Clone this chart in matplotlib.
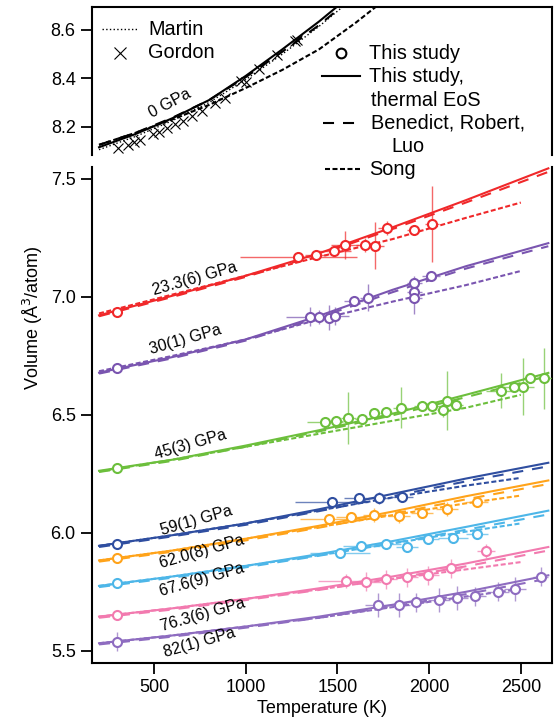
import matplotlib
matplotlib.use("Agg")
import matplotlib.pyplot as plt
from matplotlib.lines import Line2D
from matplotlib.colors import to_rgba
from matplotlib.ticker import FormatStrFormatter, MultipleLocator

plt.rcParams['font.family'] = ['Liberation Sans', 'DejaVu Sans']

# ---- 0 GPa (top panel) ----
t0 = [200, 400, 600, 800, 1000, 1200, 1400, 1600]
v0_this = [8.115, 8.17, 8.235, 8.31, 8.41, 8.52, 8.635, 8.76]
v0_benedict = [8.125, 8.175, 8.237, 8.31, 8.405, 8.51, 8.62, 8.745]
v0_martin = [8.105, 8.16, 8.225, 8.30, 8.395, 8.50, 8.615, 8.74]
t0_song = [200, 400, 600, 800, 1000, 1200, 1400, 1600, 1800]
v0_song = [8.125, 8.175, 8.23, 8.29, 8.36, 8.435, 8.52, 8.63, 8.75]
t_gordon = [305, 360, 390, 425, 495, 525, 570, 615, 660, 705, 760, 830, 885,
            975, 1000, 1075, 1170, 1270, 1280]
v_gordon = [8.11, 8.125, 8.135, 8.145, 8.17, 8.18, 8.195, 8.21, 8.225, 8.243,
            8.265, 8.30, 8.32, 8.39, 8.385, 8.44, 8.495, 8.555, 8.56]

# ---- high pressure isobars (bottom panel) ----
t_fit = [200, 600, 1000, 1400, 1800, 2200, 2650]
t_song = [200, 600, 1000, 1400, 1800, 2200, 2500]

labels = ['23.3(6) GPa', '30(1) GPa', '45(3) GPa', '59(1) GPa',
          '62.0(8) GPa', '67.6(9) GPa', '76.3(6) GPa', '82(1) GPa']
colors = ['#f0282a', '#7a55b0', '#6cbf3c', '#2f4ea0',
          '#ffa31a', '#4db6e8', '#f27aaf', '#8e6cc0']

fit_this = [
    [6.922, 7.005, 7.09, 7.185, 7.295, 7.41, 7.545],
    [6.679, 6.745, 6.82, 6.92, 7.03, 7.13, 7.228],
    [6.263, 6.31, 6.37, 6.435, 6.505, 6.585, 6.678],
    [5.945, 5.99, 6.04, 6.10, 6.165, 6.23, 6.297],
    [5.883, 5.925, 5.975, 6.03, 6.09, 6.155, 6.222],
    [5.775, 5.815, 5.86, 5.91, 5.965, 6.025, 6.094],
    [5.645, 5.68, 5.72, 5.765, 5.815, 5.87, 5.94],
    [5.532, 5.565, 5.603, 5.645, 5.695, 5.75, 5.82],
]
fit_benedict = [
    [6.918, 7.0, 7.085, 7.18, 7.288, 7.40, 7.53],
    [6.675, 6.74, 6.815, 6.913, 7.02, 7.12, 7.215],
    [6.258, 6.305, 6.365, 6.43, 6.498, 6.575, 6.665],
    [5.94, 5.985, 6.034, 6.092, 6.155, 6.218, 6.282],
    [5.878, 5.92, 5.968, 6.022, 6.08, 6.142, 6.207],
    [5.77, 5.81, 5.854, 5.903, 5.956, 6.013, 6.078],
    [5.64, 5.675, 5.715, 5.758, 5.806, 5.858, 5.925],
    [5.527, 5.56, 5.598, 5.64, 5.688, 5.74, 5.806],
]
fit_song = [
    [6.93, 7.01, 7.09, 7.17, 7.245, 7.335, 7.40],
    [6.685, 6.75, 6.82, 6.905, 6.98, 7.05, 7.11],
    [6.26, 6.31, 6.365, 6.42, 6.475, 6.53, 6.585],
    [5.945, 5.99, 6.04, 6.095, 6.15, 6.20, 6.233],
    [5.883, 5.925, 5.975, 6.025, 6.075, 6.125, 6.158],
    [5.775, 5.815, 5.86, 5.905, 5.955, 6.005, 6.04],
    [5.645, 5.68, 5.72, 5.76, 5.805, 5.845, 5.876],
    [5.532, 5.565, 5.603, 5.64, 5.685, 5.73, 5.762],
]

pts_t = [
    [300, 1287, 1384, 1482, 1542, 1651, 1706, 1769, 1918, 2015],
    [300, 1352, 1398, 1453, 1484, 1588, 1665, 1919, 1919, 1919, 2011],
    [300, 1433, 1491, 1559, 1636, 1700, 1765, 1844, 1960, 2018, 2073, 2098,
     2147, 2391, 2465, 2513, 2551, 2629],
    [300, 1468, 1617, 1728, 1853],
    [300, 1453, 1574, 1700, 1834, 1960, 2098, 2262],
    [300, 1514, 1630, 1765, 1877, 1996, 2131, 2262],
    [300, 1549, 1655, 1767, 1877, 1996, 2121, 2311],
    [300, 1722, 1838, 1931, 2054, 2150, 2249, 2374, 2468, 2609],
]
pts_v = [
    [6.935, 7.171, 7.179, 7.196, 7.220, 7.220, 7.217, 7.291, 7.284, 7.309],
    [6.698, 6.916, 6.916, 6.912, 6.919, 6.984, 6.997, 7.060, 7.021, 6.997, 7.089],
    [6.274, 6.471, 6.475, 6.486, 6.483, 6.509, 6.511, 6.531, 6.538, 6.538,
     6.521, 6.560, 6.542, 6.603, 6.620, 6.620, 6.655, 6.655],
    [5.951, 6.132, 6.149, 6.149, 6.153],
    [5.892, 6.057, 6.068, 6.076, 6.071, 6.085, 6.100, 6.132],
    [5.786, 5.913, 5.946, 5.951, 5.941, 5.974, 5.979, 5.995],
    [5.652, 5.796, 5.793, 5.804, 5.811, 5.821, 5.850, 5.924],
    [5.539, 5.694, 5.694, 5.706, 5.715, 5.725, 5.732, 5.750, 5.762, 5.814],
]
pts_xerr = [
    [0, 318, 60, 90, 78, 50, 50, 50, 40, 40],
    [0, 130, 40, 60, 80, 50, 40, 40, 40, 40, 50],
    [0, 100, 40, 40, 40, 30, 30, 40, 40, 40, 30, 40, 40, 80, 60, 60, 40, 40],
    [0, 200, 80, 60, 60],
    [0, 155, 80, 60, 60, 60, 60, 60],
    [0, 164, 100, 80, 60, 60, 80, 60],
    [0, 155, 80, 60, 60, 60, 60, 50],
    [0, 70, 60, 60, 60, 60, 60, 60, 60, 40],
]
pts_yerr = [
    [0.01, 0.015, 0.015, 0.02, 0.06, 0.03, 0.10, 0.03, 0.02, 0.16],
    [0.01, 0.04, 0.03, 0.053, 0.04, 0.02, 0.057, 0.03, 0.02, 0.07, 0.02],
    [0.01, 0.02, 0.02, 0.11, 0.02, 0.02, 0.02, 0.088, 0.02, 0.02, 0.03, 0.125,
     0.02, 0.074, 0.02, 0.12, 0.02, 0.13],
    [0.015, 0.02, 0.02, 0.025, 0.02],
    [0.015, 0.02, 0.02, 0.03, 0.03, 0.02, 0.03, 0.02],
    [0.02, 0.02, 0.02, 0.02, 0.02, 0.02, 0.02, 0.02],
    [0.01, 0.03, 0.04, 0.04, 0.04, 0.04, 0.04, 0.03],
    [0.04, 0.05, 0.05, 0.04, 0.05, 0.05, 0.04, 0.04, 0.05, 0.04],
]
label_t = [720, 672, 701, 729, 759, 759, 768, 749]
label_v = [7.079, 6.817, 6.372, 6.052, 5.92, 5.803, 5.652, 5.534]

W, H = 554, 724
fig = plt.figure(figsize=(W / 100, H / 100), dpi=100)


def fx(px):
    return px / W


def fy(py):
    return 1 - py / H


ax_top = fig.add_axes([fx(91.7), fy(155), (552 - 91.7) / W, (155 - 6.7) / H])
ax = fig.add_axes([fx(91.7), fy(663.3), (552 - 91.7) / W, (663.3 - 166.7) / H])

LONG = (5.3, 4.3)
SHORT = (2.4, 1.2)

# top panel
ax_top.plot(t0, v0_this, color='k', lw=1.5)
ax_top.plot(t0, v0_benedict, color='k', lw=1.5, dashes=LONG)
ax_top.plot(t0, v0_martin, color='k', lw=1.0, ls=':')
ax_top.plot(t0_song, v0_song, color='k', lw=1.5, dashes=SHORT)
ax_top.plot(t_gordon, v_gordon, 'x', color='k', ms=7, mew=0.8)
ax_top.text(585, 8.295, '0 GPa', rotation=28, ha='center', va='center',
            fontsize=11.5, rotation_mode='anchor')
ax_top.set_xlim(160, 2670)
ax_top.set_ylim(8.083, 8.696)
ax_top.spines['bottom'].set_visible(False)
ax_top.tick_params(axis='x', bottom=False, labelbottom=False)
ax_top.yaxis.set_major_locator(MultipleLocator(0.2))
ax_top.yaxis.set_major_formatter(FormatStrFormatter('%.1f'))

# bottom panel
for i, c in enumerate(colors):
    ax.plot(t_fit, fit_benedict[i], color=c, lw=1.5, dashes=LONG, zorder=2)
    ax.plot(t_fit, fit_this[i], color=c, lw=1.5, zorder=3)
    ax.plot(t_song, fit_song[i], color=c, lw=1.5, dashes=SHORT, zorder=2)
    ax.errorbar(pts_t[i], pts_v[i], xerr=pts_xerr[i], yerr=pts_yerr[i],
                fmt='o', ms=6.5, mfc='white', mec=c, mew=1.5,
                ecolor=to_rgba(c, 0.7), elinewidth=1.0, capsize=0, zorder=4)
    ax.text(label_t[i], label_v[i], labels[i], rotation=16, ha='center',
            va='center', fontsize=11.5, rotation_mode='anchor')

ax.set_xlim(160, 2670)
ax.set_ylim(5.447, 7.552)
ax.spines['top'].set_visible(False)
ax.xaxis.set_major_locator(MultipleLocator(500))
ax.yaxis.set_major_locator(MultipleLocator(0.5))
ax.yaxis.set_major_formatter(FormatStrFormatter('%.1f'))
ax.set_xlabel('Temperature (K)', fontsize=13, labelpad=3)

for a in (ax, ax_top):
    for s in a.spines.values():
        s.set_linewidth(1.5)
    a.tick_params(direction='out', length=8, width=1.3, labelsize=13,
                  right=False, top=False)

fig.text(fx(33), fy(318), 'Volume (Å$^3$/atom)', rotation=90,
         ha='center', va='center', fontsize=13)

# legends drawn in figure pixel positions
fs = 14.3
fig.add_artist(Line2D([fx(101.7), fx(138.3)], [fy(29.3)] * 2, color='k',
                      lw=1.0, ls=':'))
fig.text(fx(148), fy(29.3), 'Martin', va='center', fontsize=fs)
fig.add_artist(Line2D([fx(120)], [fy(52.7)], marker='x', color='k', ms=9,
                      mew=0.8, ls='none'))
fig.text(fx(148), fy(52.7), 'Gordon', va='center', fontsize=fs)

fig.add_artist(Line2D([fx(341)], [fy(53.3)], marker='o', mfc='white',
                      mec='k', ms=7, mew=1.5, ls='none'))
fig.text(fx(369), fy(53.3), 'This study', va='center', fontsize=fs)
fig.add_artist(Line2D([fx(321.7), fx(360)], [fy(76)] * 2, color='k', lw=1.5))
fig.text(fx(369), fy(76), 'This study,', va='center', fontsize=fs)
fig.text(fx(371), fy(100), 'thermal EoS', va='center', fontsize=fs)
fig.add_artist(Line2D([fx(323), fx(356)], [fy(122.7)] * 2, color='k',
                      lw=1.5, dashes=LONG))
fig.text(fx(371), fy(122.7), 'Benedict, Robert,', va='center', fontsize=fs)
fig.text(fx(391), fy(146.7), 'Luo', va='center', fontsize=fs)
fig.add_artist(Line2D([fx(325), fx(362)], [fy(169.3)] * 2, color='k',
                      lw=1.5, dashes=SHORT))
fig.text(fx(369), fy(169.3), 'Song', va='center', fontsize=fs)

fig.savefig('out.png', dpi=100)
